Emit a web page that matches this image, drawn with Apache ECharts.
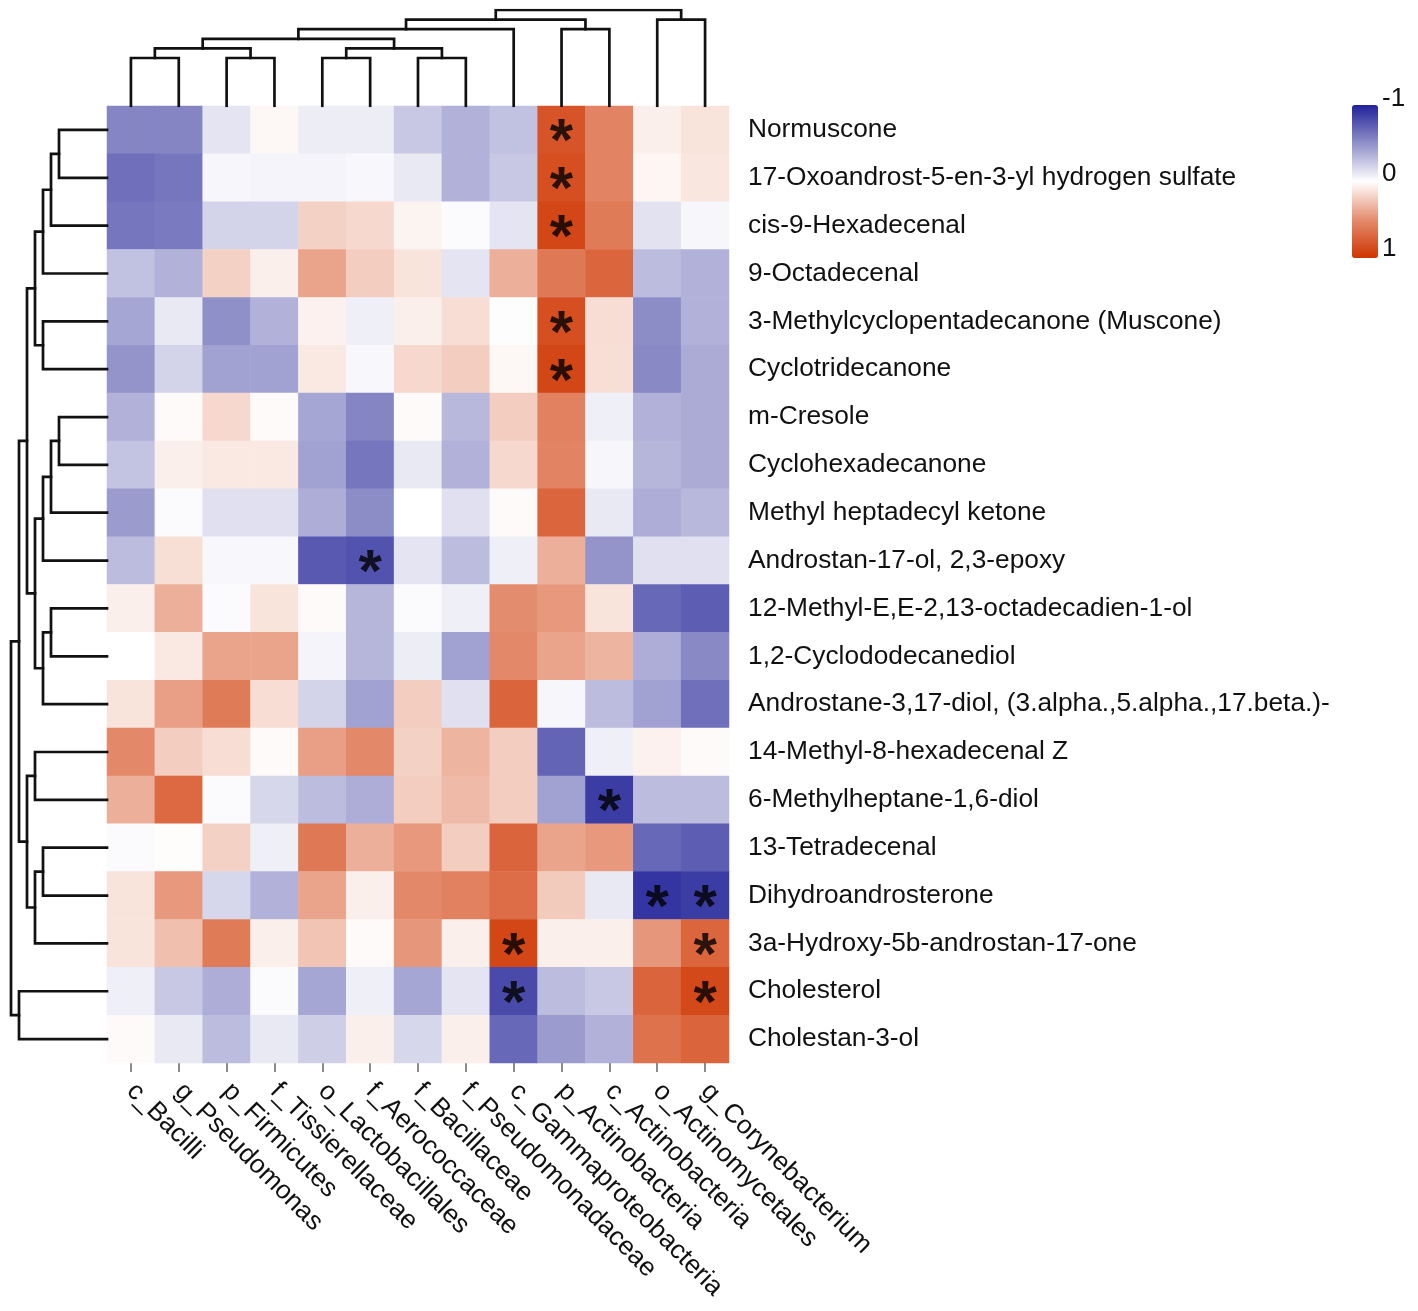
<!DOCTYPE html>
<html><head><meta charset="utf-8">
<script src="https://cdn.jsdelivr.net/npm/echarts@6/dist/echarts.min.js"></script>
<style>html,body{margin:0;padding:0;background:#fff;}#c{width:1418px;height:1311px;}</style>
</head><body><div id="c"></div>
<script>
const columns = ['c_Bacilli','g_Pseudomonas','p_Firmicutes','f_Tissierellaceae','o_Lactobacillales','f_Aerococcaceae','f_Bacillaceae','f_Pseudomonadaceae','c_Gammaproteobacteria','p_Actinobacteria','c_Actinobacteria','o_Actinomycetales','g_Corynebacterium'];
const rows = ['Normuscone','17-Oxoandrost-5-en-3-yl hydrogen sulfate','cis-9-Hexadecenal','9-Octadecenal','3-Methylcyclopentadecanone (Muscone)','Cyclotridecanone','m-Cresole','Cyclohexadecanone','Methyl heptadecyl ketone','Androstan-17-ol, 2,3-epoxy','12-Methyl-E,E-2,13-octadecadien-1-ol','1,2-Cyclododecanediol','Androstane-3,17-diol, (3.alpha.,5.alpha.,17.beta.)-','14-Methyl-8-hexadecenal Z','6-Methylheptane-1,6-diol','13-Tetradecenal','Dihydroandrosterone','3a-Hydroxy-5b-androstan-17-one','Cholesterol','Cholestan-3-ol'];
// correlation values, one list per row (columns in order above)
const values = [
 [-0.55,-0.55,-0.12,0.03,-0.08,-0.08,-0.25,-0.35,-0.28,0.82,0.55,0.07,0.12],
 [-0.65,-0.62,-0.04,-0.05,-0.05,-0.03,-0.1,-0.35,-0.25,0.85,0.55,0.04,0.11],
 [-0.62,-0.6,-0.2,-0.2,0.2,0.17,0.05,-0.02,-0.12,0.9,0.6,-0.13,-0.04],
 [-0.28,-0.35,0.2,0.07,0.4,0.22,0.12,-0.12,0.35,0.62,0.72,-0.3,-0.35],
 [-0.4,-0.1,-0.5,-0.35,0.06,-0.07,0.07,0.15,-0.01,0.85,0.15,-0.52,-0.35],
 [-0.48,-0.2,-0.42,-0.42,0.1,-0.03,0.17,0.22,0.03,0.9,0.14,-0.53,-0.38],
 [-0.35,0.02,0.17,0.02,-0.4,-0.55,0.02,-0.32,0.22,0.57,-0.07,-0.35,-0.38],
 [-0.27,0.07,0.1,0.1,-0.42,-0.62,-0.1,-0.35,0.17,0.55,-0.04,-0.33,-0.38],
 [-0.45,-0.02,-0.14,-0.14,-0.37,-0.52,0,-0.14,0.02,0.72,-0.1,-0.37,-0.32],
 [-0.3,0.14,-0.03,-0.03,-0.75,-0.78,-0.12,-0.3,-0.07,0.35,-0.48,-0.14,-0.14],
 [0.07,0.35,-0.02,0.12,0.02,-0.33,-0.02,-0.07,0.5,0.45,0.12,-0.68,-0.73],
 [0,0.1,0.4,0.4,-0.05,-0.33,-0.08,-0.42,0.52,0.4,0.33,-0.37,-0.53],
 [0.12,0.42,0.6,0.15,-0.2,-0.42,0.22,-0.14,0.73,-0.04,-0.3,-0.42,-0.65],
 [0.52,0.22,0.15,0.02,0.42,0.52,0.2,0.33,0.22,-0.7,-0.07,0.06,0.02],
 [0.35,0.7,-0.02,-0.18,-0.3,-0.37,0.22,0.3,0.22,-0.42,-0.88,-0.3,-0.3],
 [-0.02,0.01,0.2,-0.07,0.62,0.35,0.45,0.22,0.73,0.4,0.45,-0.68,-0.73],
 [0.12,0.45,-0.18,-0.35,0.4,0.07,0.52,0.57,0.68,0.23,-0.1,-0.92,-0.88],
 [0.12,0.28,0.6,0.07,0.26,0.02,0.46,0.07,0.9,0.07,0.07,0.46,0.72],
 [-0.07,-0.25,-0.37,-0.02,-0.4,-0.07,-0.4,-0.12,-0.82,-0.3,-0.25,0.73,0.88],
 [0.02,-0.1,-0.3,-0.1,-0.22,0.07,-0.18,0.07,-0.68,-0.45,-0.35,0.65,0.73]
];
// significant cells: [rowIndex, columnIndex]
const stars = [[0,9],[1,9],[2,9],[4,9],[5,9],[9,5],[14,10],[16,11],[16,12],[17,8],[17,12],[18,8],[18,12]];
// dendrogram linkages: [childA, childB, height]; leaves are 0..n-1, merge k creates node n+k
const colLinkage = [[0,1,5],[2,3,5],[4,5,5],[6,7,5],[13,14,6],[15,16,6],[17,18,7],[19,8,8],[9,10,8],[20,21,9],[11,12,9],[22,23,10]];
const rowLinkage = [[0,1,6],[20,2,7],[21,3,8],[4,5,8],[22,23,9],[6,7,6],[25,8,7],[26,9,8],[10,11,7],[28,12,8],[27,29,9],[24,30,10],[13,14,9],[15,16,8],[33,17,9],[32,34,10],[31,35,11],[18,19,11],[36,37,12]];
const colorTicks = ['-1','0','1'];

function dendroSegments(n, linkage, swap){
  const pos = [], hgt = [];
  for (let i=0;i<n;i++){pos[i]=i;hgt[i]=0;}
  const out = [];
  linkage.forEach((m,k)=>{
    const [a,b,h] = m;
    const pts = [[pos[a],hgt[a]],[pos[a],h],[pos[b],h],[pos[b],hgt[b]]];
    out.push({coords: swap ? pts.map(p=>[p[1],p[0]]) : pts});
    pos[n+k] = (pos[a]+pos[b])/2; hgt[n+k] = h;
  });
  return out;
}

const heatData = [];
values.forEach((r,ri)=>r.forEach((v,ci)=>heatData.push([ci,ri,v])));
const starData = stars.map(s=>[s[1],s[0]]);

const FONT = 'Liberation Sans, Arial, sans-serif';
const chart = echarts.init(document.getElementById('c'));
const lineStyle = {color:'#111', width:2.7, opacity:1, cap:'square', join:'miter'};
chart.setOption({
  animation:false,
  backgroundColor:'#fff',
  grid:[
    {left:107, top:106, width:622, height:957},
    {left:107, top:10, width:622, height:96},
    {left:11, top:106, width:96, height:957}
  ],
  xAxis:[
    {type:'category', gridIndex:0, data:columns, position:'bottom',
     axisLine:{show:false}, axisTick:{show:true, alignWithLabel:true, length:9, lineStyle:{color:'#666', width:1.5}},
     axisLabel:{rotate:-45, fontSize:26.3, color:'#111', fontFamily:FONT, margin:24, interval:0},
     splitLine:{show:false}},
    {type:'value', gridIndex:1, min:-0.5, max:12.5, show:false},
    {type:'value', gridIndex:2, min:0, max:12, inverse:true, show:false}
  ],
  yAxis:[
    {type:'category', gridIndex:0, data:rows, inverse:true, position:'right',
     axisLine:{show:false}, axisTick:{show:false},
     axisLabel:{fontSize:26.3, color:'#111', fontFamily:FONT, margin:19, interval:0},
     splitLine:{show:false}},
    {type:'value', gridIndex:1, min:0, max:10, show:false},
    {type:'value', gridIndex:2, min:-0.5, max:19.5, inverse:true, show:false}
  ],
  visualMap:{
    type:'continuous', min:-1, max:1, seriesIndex:0, inverse:true,
    calculable:false, orient:'vertical', left:1352, top:105, padding:0,
    itemWidth:26, itemHeight:153, hoverLink:false,
    inRange:{color:['#22229a','#9090c9','#ffffff','#e48d6e','#cf3400']}
  },
  graphic: colorTicks.map((t,i)=>({type:'text', left:1382, top:86+i*75,
    style:{text:t, font:'26px '+FONT, fill:'#111'}})),
  series:[
    {type:'heatmap', xAxisIndex:0, yAxisIndex:0, data:heatData, itemStyle:{borderWidth:0}, emphasis:{disabled:true}},
    {type:'scatter', xAxisIndex:0, yAxisIndex:0, data:starData, symbolSize:0, silent:true,
     label:{show:true, formatter:'*', position:'inside', fontSize:60, fontWeight:'bold', color:'#000', fontFamily:FONT, offset:[0,14]}},
    {type:'lines', coordinateSystem:'cartesian2d', xAxisIndex:1, yAxisIndex:1, polyline:true, silent:true,
     data:dendroSegments(columns.length, colLinkage, false), lineStyle:lineStyle},
    {type:'lines', coordinateSystem:'cartesian2d', xAxisIndex:2, yAxisIndex:2, polyline:true, silent:true,
     data:dendroSegments(rows.length, rowLinkage, true), lineStyle:lineStyle}
  ]
});
</script></body></html>
